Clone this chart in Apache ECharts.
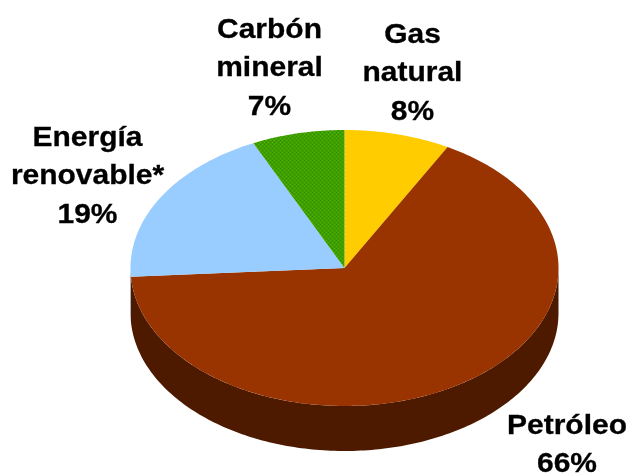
<!DOCTYPE html>
<html>
<head>
<meta charset="utf-8">
<style>html,body{margin:0;padding:0;background:#fff}#c{width:629px;height:475px}</style>
<script src="https://cdn.jsdelivr.net/npm/echarts@6/dist/echarts.min.js"></script>
</head>
<body>
<div id="c"></div>
<script>
const categories = ['Gas\nnatural', 'Petróleo', 'Energía\nrenovable*', 'Carbón\nmineral'];
const shares = [8, 66, 19, 7];
const topColors = ['#FFCC00', '#993300', '#99CCFF', null];
const sideColors = ['#806600', '#4D1A00', '#4D6680', '#1A4D00'];
const labelAnchors = [[412.5, 35], [567, 426], [87.5, 138], [269.5, 30]];

const CX = 344.5, CY = 268, RX = 214, RY = 138, DEPTH = 45, LINE = 38.5;
const TOTAL = shares.reduce((a, b) => a + b, 0);

function greenPattern() {
  const c = document.createElement('canvas');
  c.width = 4; c.height = 4;
  const g = c.getContext('2d');
  g.fillStyle = '#3F9F00';
  g.fillRect(0, 0, 4, 4);
  g.fillStyle = '#2F8F00';
  g.fillRect(0, 0, 1, 1); g.fillRect(2, 2, 1, 1);
  g.fillStyle = '#55B400';
  g.fillRect(2, 0, 1, 1); g.fillRect(0, 2, 1, 1);
  return { image: c, repeat: 'repeat' };
}
const greenFill = greenPattern();

function pt(theta, dy) {
  return [CX + RX * Math.sin(theta), CY - RY * Math.cos(theta) + dy];
}
function arc(a, b, dy) {
  const n = Math.max(2, Math.ceil(Math.abs(b - a) / (Math.PI / 180)));
  const out = [];
  for (let i = 0; i <= n; i++) out.push(pt(a + (b - a) * i / n, dy));
  return out;
}

function renderItem(params, api) {
  const i = params.dataIndex;
  const before = shares.slice(0, i).reduce((a, b) => a + b, 0);
  const a = before / TOTAL * 2 * Math.PI;
  const b = (before + api.value(0)) / TOTAL * 2 * Math.PI;
  const children = [];
  const s0 = Math.max(a, Math.PI / 2), s1 = Math.min(b, 3 * Math.PI / 2);
  if (s1 > s0) {
    children.push({
      type: 'polygon', z2: 1,
      shape: { points: arc(s0, s1, 0).concat(arc(s1, s0, DEPTH)) },
      style: { fill: sideColors[i] }
    });
  }
  children.push({
    type: 'polygon', z2: 2,
    shape: { points: [[CX, CY]].concat(arc(a, b, 0)) },
    style: { fill: topColors[i] || greenFill }
  });
  children.push({
    type: 'text', z2: 3,
    x: labelAnchors[i][0], y: labelAnchors[i][1] - LINE / 2,
    scaleX: 1.07,
    style: {
      text: categories[i] + '\n' + api.value(0) + '%',
      x: 0, y: 0,
      fill: '#000',
      stroke: '#000',
      lineWidth: 0.3,
      font: 'bold 28px "Liberation Sans", Arial, sans-serif',
      lineHeight: LINE,
      align: 'center',
      verticalAlign: 'top'
    }
  });
  return { type: 'group', children };
}

const chart = echarts.init(document.getElementById('c'), null, { renderer: 'canvas' });
chart.setOption({
  animation: false,
  backgroundColor: '#fff',
  series: [{
    type: 'custom',
    coordinateSystem: 'none',
    renderItem,
    data: shares.map(v => [v]),
    silent: true
  }]
});
</script>
</body>
</html>
